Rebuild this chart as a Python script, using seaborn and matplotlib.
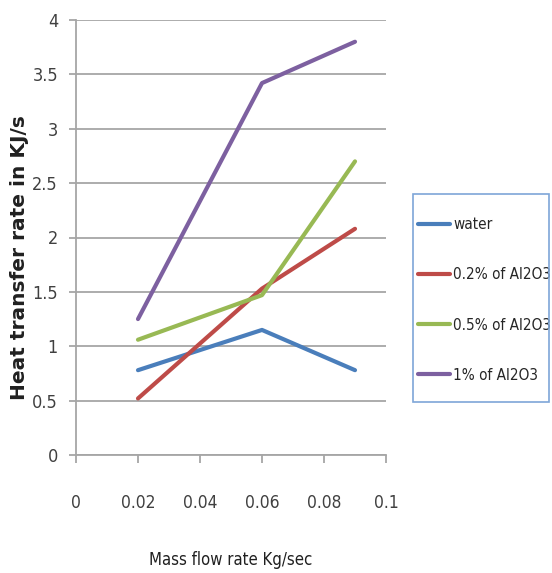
import matplotlib
matplotlib.use("Agg")
import matplotlib.pyplot as plt
from matplotlib.patches import Rectangle
import seaborn as sns
import pandas as pd

x_vals = [0.02, 0.06, 0.09]
water = [0.78, 1.15, 0.78]
al_02 = [0.52, 1.53, 2.08]
al_05 = [1.06, 1.47, 2.70]
al_1 = [1.25, 3.42, 3.80]
series_names = ["water", "0.2% of Al2O3", "0.5% of Al2O3", "1% of Al2O3"]
x_ticks = [0, 0.02, 0.04, 0.06, 0.08, 0.1]
x_tick_labels = ["0", "0.02", "0.04", "0.06", "0.08", "0.1"]
y_ticks = [0, 0.5, 1, 1.5, 2, 2.5, 3, 3.5, 4]
y_tick_labels = ["0", "0.5", "1", "1.5", "2", "2.5", "3", "3.5", "4"]

rows = []
for name, vals in zip(series_names, [water, al_02, al_05, al_1]):
    for xv, yv in zip(x_vals, vals):
        rows.append({"x": xv, "y": yv, "series": name})
df = pd.DataFrame(rows)

sns.set_style("white")
plt.rcParams["font.family"] = ["DejaVu Sans"]
plt.rcParams["font.stretch"] = "condensed"

palette = {"water": "#4A7EBB", "0.2% of Al2O3": "#BE4B48",
           "0.5% of Al2O3": "#98B954", "1% of Al2O3": "#7D60A0"}

fig = plt.figure(figsize=(5.52, 5.73), dpi=100)
ax = fig.add_axes([76/552, 1 - 455/573, (386 - 76)/552, (455 - 20)/573])

sns.lineplot(data=df, x="x", y="y", hue="series", palette=palette,
             hue_order=series_names, linewidth=3, ax=ax, legend=True,
             solid_capstyle="round")

ax.set_xlim(0, 0.1)
ax.set_ylim(0, 4)
ax.set_xticks(x_ticks)
ax.set_xticklabels(x_tick_labels, fontsize=12.5, color="#404040")
ax.set_yticks(y_ticks)
ax.set_yticklabels(y_tick_labels, fontsize=13, color="#404040")
ax.grid(axis="y", color="#A6A6A6", linewidth=1.3)
ax.grid(axis="x", visible=False)
for s in ["top", "right"]:
    ax.spines[s].set_visible(False)
for s in ["left", "bottom"]:
    ax.spines[s].set_color("#A6A6A6")
    ax.spines[s].set_linewidth(1.3)
ax.tick_params(axis="x", which="both", bottom=True, length=6, width=1.3,
               color="#A6A6A6", pad=22, direction="out")
ax.tick_params(axis="y", which="both", left=True, length=5, width=1.3,
               color="#A6A6A6", pad=8, direction="out")

ax.set_xlabel("Mass flow rate Kg/sec", fontsize=12, color="#202020", labelpad=28)
ax.set_ylabel("Heat transfer rate in KJ/s", fontsize=14.5, fontweight="bold",
              fontstretch="normal", color="#202020")
ax.yaxis.set_label_coords((29 - 76) / 310, 0.453)

# legend frame
fig.patches.append(Rectangle((413/552, 1 - 402/573), (549 - 413)/552, (402 - 194)/573,
                             transform=fig.transFigure, fill=False,
                             edgecolor="#7EA6D8", linewidth=1.2))
handles, labels = ax.get_legend_handles_labels()
ax.legend(handles, labels, loc="center left",
          bbox_to_anchor=(418/552, 1 - 300/573),
          bbox_transform=fig.transFigure,
          frameon=False, fontsize=11,
          handlelength=2.1, handletextpad=0.2, labelspacing=2.3,
          borderpad=0.0, borderaxespad=0)

fig.savefig("out.png", dpi=100)
